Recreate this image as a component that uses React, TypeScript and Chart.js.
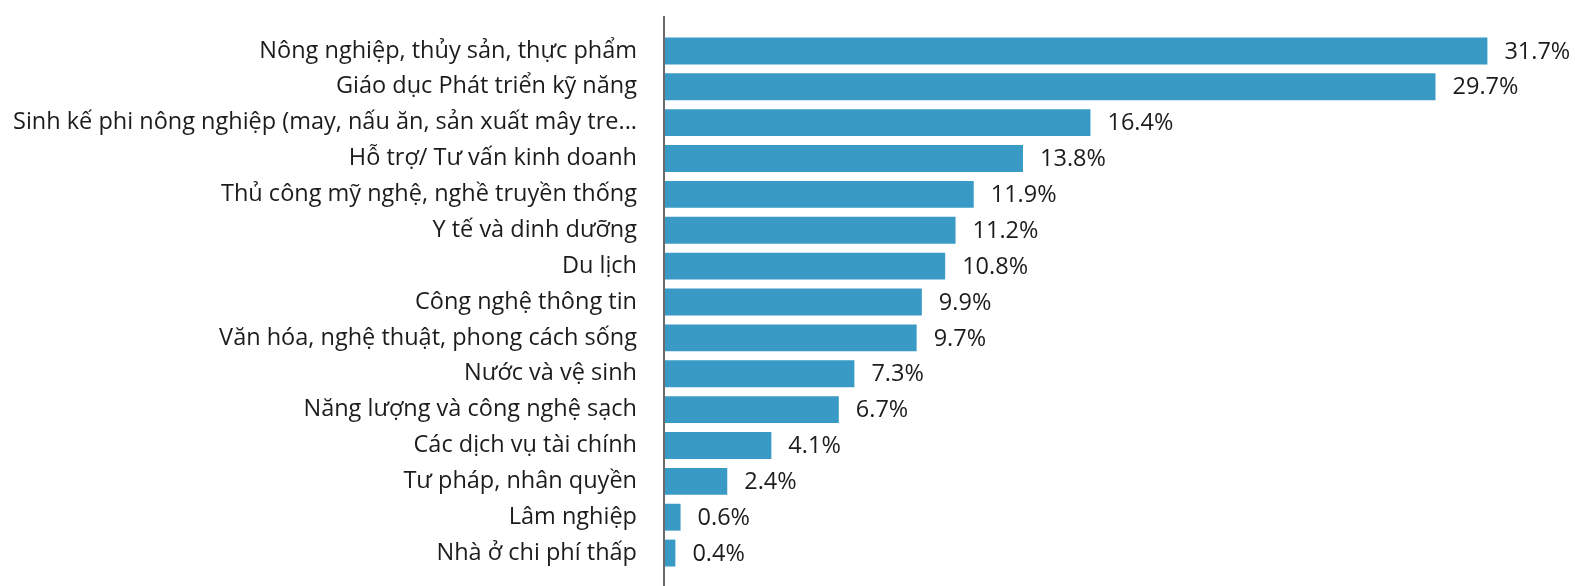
import React, { useEffect, useRef } from "react";
import { Chart, registerables } from "chart.js";

Chart.register(...registerables);

const categories: string[] = [
  "Nông nghiệp, thủy sản, thực phẩm",
  "Giáo dục Phát triển kỹ năng",
  "Sinh kế phi nông nghiệp (may, nấu ăn, sản xuất mây tre...",
  "Hỗ trợ/ Tư vấn kinh doanh",
  "Thủ công mỹ nghệ, nghề truyền thống",
  "Y tế và dinh dưỡng",
  "Du lịch",
  "Công nghệ thông tin",
  "Văn hóa, nghệ thuật, phong cách sống",
  "Nước và vệ sinh",
  "Năng lượng và công nghệ sạch",
  "Các dịch vụ tài chính",
  "Tư pháp, nhân quyền",
  "Lâm nghiệp",
  "Nhà ở chi phí thấp",
];

const values: number[] = [31.7, 29.7, 16.4, 13.8, 11.9, 11.2, 10.8, 9.9, 9.7, 7.3, 6.7, 4.1, 2.4, 0.6, 0.4];

const FONT = "'Open Sans', 'Noto Sans', sans-serif";
const FONT_SIZE = 23.5;
const TEXT_COLOR = "#1e1b1c";
const BAR_COLOR = "#3a9ac6";

export default function App() {
  const ref = useRef<HTMLCanvasElement | null>(null);

  useEffect(() => {
    document.body.style.margin = "0";
    const canvas = ref.current;
    if (!canvas) return;

    const axisLine = {
      id: "axisLine",
      afterDraw(chart: any) {
        const { ctx, chartArea } = chart;
        ctx.save();
        ctx.strokeStyle = "#3a3a3a";
        ctx.lineWidth = 1.5;
        ctx.beginPath();
        ctx.moveTo(chartArea.left - 1, 16);
        ctx.lineTo(chartArea.left - 1, chart.height);
        ctx.stroke();
        ctx.restore();
      },
    };

    const valueLabels = {
      id: "valueLabels",
      afterDatasetsDraw(chart: any) {
        const { ctx } = chart;
        const meta = chart.getDatasetMeta(0);
        ctx.save();
        ctx.fillStyle = TEXT_COLOR;
        ctx.font = `${FONT_SIZE}px ${FONT}`;
        ctx.textAlign = "left";
        ctx.textBaseline = "middle";
        meta.data.forEach((bar: any, i: number) => {
          ctx.fillText(values[i].toFixed(1) + "%", bar.x + 17, bar.y + 1);
        });
        ctx.restore();
      },
    };

    const chart = new Chart(canvas, {
      type: "bar",
      data: {
        labels: categories,
        datasets: [
          {
            data: values,
            backgroundColor: BAR_COLOR,
            borderWidth: 0,
            barPercentage: 0.75,
            categoryPercentage: 1,
          },
        ],
      },
      options: {
        indexAxis: "y",
        animation: false,
        responsive: false,
        maintainAspectRatio: false,
        layout: { padding: { top: 33, bottom: 15, left: 0, right: 2 } },
        plugins: {
          legend: { display: false },
          tooltip: { enabled: false },
        },
        scales: {
          x: {
            min: 0,
            max: 35,
            display: false,
            grid: { display: false },
          },
          y: {
            grid: { display: false, drawTicks: false },
            border: { display: false },
            afterFit(scale: any) {
              scale.width = 665;
              scale.paddingTop = 0;
              scale.paddingBottom = 0;
            },
            ticks: {
              padding: 28,
              color: TEXT_COLOR,
              font: { family: FONT, size: FONT_SIZE },
              autoSkip: false,
            },
          },
        },
      },
      plugins: [axisLine, valueLabels],
    });

    return () => chart.destroy();
  }, []);

  return (
    <div style={{ width: 1575, height: 586 }}>
      <canvas ref={ref} width={1575} height={586} style={{ display: "block" }} />
    </div>
  );
}
